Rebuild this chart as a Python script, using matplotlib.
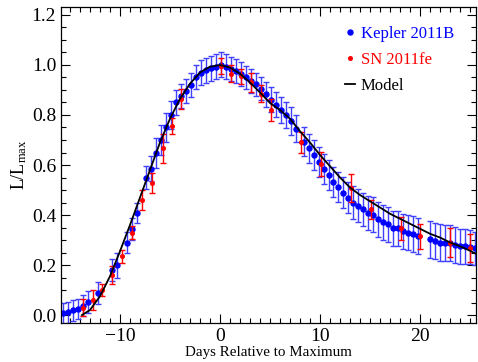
import matplotlib
matplotlib.use("Agg")
import matplotlib.pyplot as plt
from matplotlib.lines import Line2D
from matplotlib.ticker import MultipleLocator

plt.rcParams['font.family'] = ['Liberation Serif', 'DejaVu Serif']
plt.rcParams['mathtext.fontset'] = 'custom'
plt.rcParams['mathtext.rm'] = 'Liberation Serif'
plt.rcParams['mathtext.it'] = 'Liberation Serif:italic'

# Kepler 2011B light curve (0.5 day bins)
kep_day = [-15.7, -15.2, -14.7, -14.2, -13.7, -13.2, -12.2,
           -10.8, -10.3, -9.3, -8.8, -8.3, -7.4, -6.9, -6.4, -5.9, -5.4, -4.9, -4.4,
           -3.9, -3.4, -2.9, -2.4, -1.9, -1.4, -0.9, -0.4, 0.1, 0.6, 1.1, 1.6,
           2.1, 2.6, 3.1, 3.6, 4.1, 4.6, 5.1, 5.6, 6.1, 6.6, 7.1, 7.6,
           8.4, 8.9, 9.4, 9.9, 10.4, 10.9, 11.3, 11.8, 12.3, 12.8, 13.3, 13.8,
           14.3, 14.8, 15.3, 15.8, 16.3, 16.8, 17.3, 17.8, 18.3, 18.8, 19.3, 19.8,
           21.0, 21.5, 22.0, 22.5, 23.0, 23.5, 24.0, 24.5, 25.0, 25.5]
kep_lum = [0.007, 0.011, 0.020, 0.025, 0.038, 0.052, 0.088,
           0.18, 0.20, 0.29, 0.345, 0.41, 0.55, 0.585, 0.647, 0.70, 0.75, 0.80, 0.85,
           0.875, 0.895, 0.921, 0.95, 0.968, 0.978, 0.987, 0.993, 1.0, 0.992, 0.985, 0.975,
           0.963, 0.95, 0.935, 0.922, 0.905, 0.883, 0.86, 0.84, 0.82, 0.80, 0.775, 0.745,
           0.693, 0.667, 0.64, 0.613, 0.583, 0.56, 0.533, 0.513, 0.49, 0.47, 0.45, 0.437,
           0.423, 0.409, 0.402, 0.383, 0.372, 0.363, 0.347, 0.347, 0.336, 0.329, 0.323, 0.316,
           0.303, 0.296, 0.290, 0.289, 0.287, 0.280, 0.276, 0.276, 0.273, 0.267]
kep_err = [0.043, 0.043, 0.042, 0.040, 0.042, 0.043, 0.043,
           0.045, 0.05, 0.043, 0.045, 0.040, 0.045, 0.05, 0.06, 0.058, 0.057, 0.055, 0.05,
           0.047, 0.047, 0.048, 0.048, 0.05, 0.05, 0.05, 0.05, 0.05, 0.05, 0.048, 0.047,
           0.047, 0.047, 0.047, 0.047, 0.047, 0.05, 0.05, 0.05, 0.052, 0.053, 0.055, 0.055,
           0.058, 0.058, 0.06, 0.06, 0.06, 0.06, 0.06, 0.06, 0.062, 0.063, 0.065, 0.066,
           0.067, 0.068, 0.07, 0.07, 0.07, 0.07, 0.07, 0.07, 0.07, 0.07, 0.072, 0.072,
           0.073, 0.073, 0.073, 0.073, 0.072, 0.072, 0.07, 0.07, 0.068, 0.066]

# SN 2011fe
sn_day = [-13.7, -12.7, -11.8, -10.8, -9.8, -8.8, -7.8, -6.8, -5.7, -4.8, -3.9,
          0.1, 1.1, 2.1, 3.1, 4.1, 5.1, 8.1, 10.1, 13.1, 15.1, 18.1, 20.0, 23.0, 25.0]
sn_lum = [0.03, 0.06, 0.10, 0.16, 0.235, 0.33, 0.46, 0.53, 0.667, 0.755, 0.865,
          0.995, 0.965, 0.955, 0.93, 0.885, 0.82, 0.69, 0.605, 0.51, 0.423, 0.347,
          0.315, 0.29, 0.268]
sn_err = [0.033, 0.04, 0.023, 0.035, 0.027, 0.027, 0.039, 0.04, 0.057, 0.033, 0.04,
          0.033, 0.033, 0.03, 0.037, 0.033, 0.043, 0.04, 0.049, 0.056, 0.037, 0.047,
          0.049, 0.057, 0.057]

# model light curve
mod_day = [-13.8, -13.0, -12.0, -11.0, -10.0, -9.0, -8.0, -7.0, -6.0, -5.0, -4.0,
           -3.0, -2.0, -1.0, 0.0, 1.0, 2.0, 3.0, 4.0, 5.0, 6.0, 7.0, 8.0, 9.0, 10.0,
           11.0, 12.0, 13.0, 14.0, 15.0, 16.0, 17.0, 18.0, 19.0, 20.0, 21.0, 22.0,
           23.0, 24.0, 25.0, 25.6]
mod_lum = [0.0, 0.02, 0.075, 0.155, 0.255, 0.36, 0.47, 0.58, 0.69, 0.785, 0.865,
           0.925, 0.97, 0.993, 1.0, 0.99, 0.965, 0.93, 0.89, 0.848, 0.82, 0.785,
           0.735, 0.69, 0.64, 0.595, 0.55, 0.51, 0.48, 0.455, 0.43, 0.405, 0.385,
           0.365, 0.345, 0.325, 0.31, 0.29, 0.275, 0.257, 0.245]

fig = plt.figure(figsize=(4.78, 3.62), dpi=100)
ax = fig.add_axes([0.1276, 0.1077, 0.8672, 0.8723])

ax.errorbar(kep_day, kep_lum, yerr=kep_err, fmt='o', color='blue', ms=3.6,
            ecolor=(0.25, 0.25, 1.0), elinewidth=1.0, capsize=2.2, capthick=1.0, zorder=2)
ax.errorbar(sn_day, sn_lum, yerr=sn_err, fmt='o', color='red', ms=2.6,
            ecolor='red', elinewidth=1.0, capsize=2.0, capthick=1.0, zorder=3)
ax.plot(mod_day, mod_lum, color='black', lw=1.3, zorder=4)

ax.set_xlim(-15.9, 25.55)
ax.set_ylim(-0.032, 1.231)
ax.xaxis.set_major_locator(MultipleLocator(10))
ax.xaxis.set_minor_locator(MultipleLocator(1))
ax.yaxis.set_major_locator(MultipleLocator(0.2))
ax.yaxis.set_minor_locator(MultipleLocator(0.05))
ax.yaxis.set_major_formatter(matplotlib.ticker.FormatStrFormatter('%.1f'))
ax.tick_params(which='both', direction='in', top=True, right=True, labelsize=14, width=0.8)
ax.tick_params(which='major', length=6.5)
ax.tick_params(which='minor', length=3.5)
for s in ax.spines.values():
    s.set_linewidth(0.9)

ax.set_xlabel('Days Relative to Maximum', fontsize=10.8, labelpad=1)
ax.set_ylabel(r'L/L$_{\rm max}$', fontsize=13, labelpad=2)

handles = [Line2D([], [], color='blue', marker='o', ls='none', ms=3.6),
           Line2D([], [], color='red', marker='o', ls='none', ms=2.6),
           Line2D([], [], color='black', lw=1.3)]
leg = ax.legend(handles, ['Kepler 2011B', 'SN 2011fe', 'Model'], loc='upper left',
                bbox_to_anchor=(0.685, 0.94), frameon=False, fontsize=12,
                handlelength=0.6, handletextpad=0.35, labelspacing=0.6,
                borderpad=0, borderaxespad=0)
for t, c in zip(leg.get_texts(), ['blue', 'red', 'black']):
    t.set_color(c)

fig.savefig('out.png', dpi=100)
